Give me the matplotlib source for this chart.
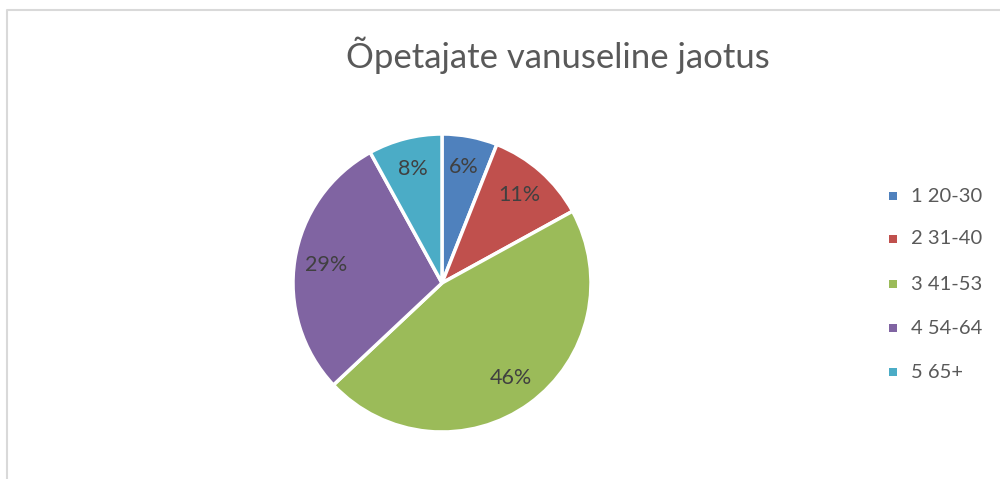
import matplotlib
matplotlib.use('Agg')
import matplotlib.pyplot as plt
from matplotlib.lines import Line2D
from matplotlib.patches import Rectangle

plt.rcParams['font.family'] = ['Lato', 'DejaVu Sans']

TITLE = 'Õpetajate vanuseline jaotus'
labels = ['1 20-30', '2 31-40', '3 41-53', '4 54-64', '5 65+']
shares = [6, 11, 46, 29, 8]
colors = ['#4F81BD', '#C0504D', '#9BBB59', '#8064A2', '#4BACC6']

W, H = 1000, 479
fig = plt.figure(figsize=(W / 100, H / 100), dpi=100)

# chart frame (only top and left edges visible in the crop)
fig.add_artist(Line2D([7 / W, 7 / W, 1.0], [0.0, 1 - 10 / H, 1 - 10 / H],
                      transform=fig.transFigure, color='#D9D9D9', lw=1.5))

# pie
cx, cy, r = 442, 283, 149
ax = fig.add_axes([(cx - r) / W, (H - cy - r) / H, 2 * r / W, 2 * r / H])
wedges, texts, autotexts = ax.pie(
    shares, colors=colors, startangle=90, counterclock=False,
    autopct='%1.0f%%', pctdistance=0.79,
    wedgeprops=dict(edgecolor='white', linewidth=2.5),
    textprops=dict(color='#404040', fontsize=15.5))
ax.set_xlim(-1, 1)
ax.set_ylim(-1, 1)
ax.set_aspect('equal')

fig.text(558 / W, 1 - 55 / H, TITLE, ha='center', va='center',
         fontsize=25, color='#595959')

# legend
ys = [196, 239, 284, 328, 372]
for lab, col, y in zip(labels, colors, ys):
    fig.add_artist(Rectangle(((893 - 4) / W, 1 - (y + 4) / H), 8 / W, 8 / H,
                             transform=fig.transFigure, facecolor=col, edgecolor='none'))
    fig.text(911 / W, 1 - y / H, lab, ha='left', va='center',
             fontsize=14.5, color='#595959')

plt.savefig('out.png', dpi=100, facecolor='white')
